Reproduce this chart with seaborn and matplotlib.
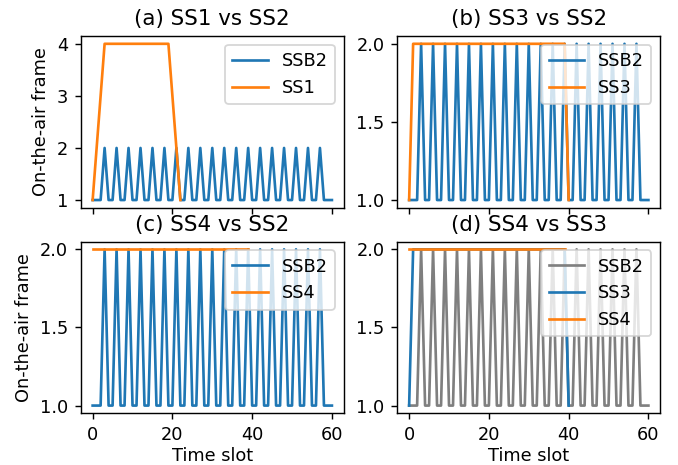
import matplotlib
matplotlib.use("Agg")
import matplotlib.pyplot as plt
import seaborn as sns

# ==========================================
# DATA: on-the-air frame per time slot
# ==========================================

ssb2 = [
    1, 1, 1,
    2, 1, 1, 2, 1, 1, 2, 1, 1, 2, 1, 1, 2, 1, 1,
    2, 1, 1, 2, 1, 1, 2, 1, 1, 2, 1, 1, 2, 1, 1,
    2, 1, 1, 2, 1, 1, 2, 1, 1, 2, 1, 1, 2, 1, 1,
    2, 1, 1, 2, 1, 1, 2, 1, 1, 2, 1, 1,
    1,
]

ss1 = [
    1, 2, 3, 4,
    4, 4, 4, 4, 4, 4, 4, 4, 4, 4, 4, 4, 4, 4, 4, 4,
    3, 2, 1,
]

ss3 = [
    1,
    2, 2, 2, 2, 2, 2, 2, 2, 2, 2, 2, 2, 2, 2, 2, 2, 2, 2, 2, 2,
    2, 2, 2, 2, 2, 2, 2, 2, 2, 2, 2, 2, 2, 2, 2, 2, 2, 2, 2,
    1,
]

ss4 = [
    2, 2, 2, 2, 2, 2, 2, 2, 2, 2, 2, 2, 2, 2, 2, 2, 2, 2, 2, 2,
    2, 2, 2, 2, 2, 2, 2, 2, 2, 2, 2, 2, 2, 2, 2, 2, 2, 2, 2, 2,
]

titles = ["(a) SS1 vs SS2", "(b) SS3 vs SS2", "(c) SS4 vs SS2", "(d) SS4 vs SS3"]

panels = [
    [("SSB2", ssb2, "C0"), ("SS1", ss1, "C1")],
    [("SSB2", ssb2, "C0"), ("SS3", ss3, "C1")],
    [("SSB2", ssb2, "C0"), ("SS4", ss4, "C1")],
    [("SSB2", ssb2, "tab:gray"), ("SS3", ss3, "C0"), ("SS4", ss4, "C1")],
]

yticks = [[1, 2, 3, 4], [1.0, 1.5, 2.0], [1.0, 1.5, 2.0], [1.0, 1.5, 2.0]]

# ==========================================
# PLOT
# ==========================================

dpi = 128
fig, axes = plt.subplots(2, 2, figsize=(678 / dpi, 465 / dpi), dpi=dpi, sharex=True)
fig.subplots_adjust(left=0.119, right=0.974, top=0.9226, bottom=0.111,
                    wspace=0.2025, hspace=0.196)

for ax, title, lines, ticks in zip(axes.flat, titles, panels, yticks):
    for name, values, color in lines:
        sns.lineplot(
            x=list(range(len(values))),
            y=values,
            ax=ax,
            color=color,
            label=name,
            linewidth=1.5,
        )
    ax.set_title(title, fontsize=12)
    ax.set_yticks(ticks)
    ax.legend(loc="upper right")
    ax.set_xticks([0, 20, 40, 60])

axes[0, 0].set_ylabel("On-the-air frame")
axes[1, 0].set_ylabel("On-the-air frame")
axes[0, 1].set_ylabel("")
axes[1, 1].set_ylabel("")
axes[1, 0].set_xlabel("Time slot", labelpad=2)
axes[1, 1].set_xlabel("Time slot", labelpad=2)

fig.savefig("out.png", dpi=dpi)
